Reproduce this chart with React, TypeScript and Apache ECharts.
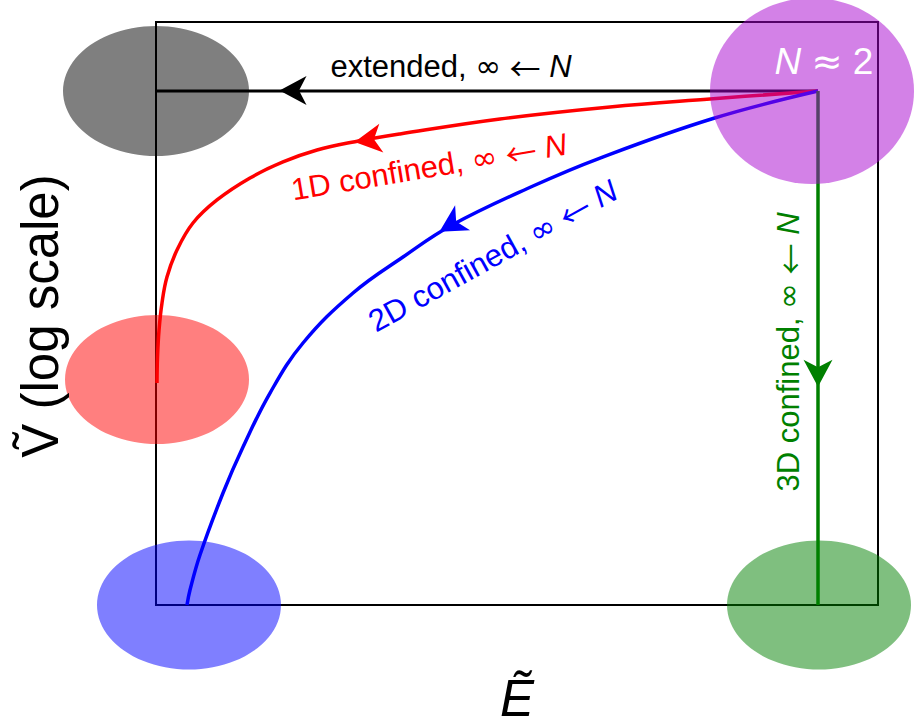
import React, { useEffect, useRef } from "react";
import * as echarts from "echarts";

// Normalised coordinates inside the box: E from 0 (left) to 1 (right), V from 0 (bottom) to 1 (top)
const regionNames = ["extended", "N ≈ 2", "1D confined", "2D confined", "3D confined"];
const regionE = [0, 0.9086, 0.0014, 0.0457, 0.9183];
const regionV = [0.8816, 0.8816, 0.3868, 0, 0];

const extendedE = [0.9169, 0];
const extendedV = [0.8816, 0.8816];

const confined3E = [0.9169, 0.9169];
const confined3V = [0.8816, 0];

const confined1E = [0.9169, 0.7673, 0.6288, 0.4765, 0.338, 0.2756, 0.223, 0.1759, 0.1302, 0.0845, 0.0512, 0.0291, 0.0152, 0.0083, 0.0042, 0.0021, 0.0014];
const confined1V = [0.8816, 0.8679, 0.8542, 0.8336, 0.8079, 0.7947, 0.7804, 0.7599, 0.7324, 0.6947, 0.6552, 0.6089, 0.5626, 0.518, 0.4717, 0.4254, 0.3808];

const confined2E = [0.9169, 0.7715, 0.615, 0.5222, 0.41, 0.3421, 0.2729, 0.2036, 0.1579, 0.1205, 0.0928, 0.0609, 0.0471, 0.0429];
const confined2V = [0.8816, 0.8345, 0.7667, 0.7187, 0.6518, 0.5969, 0.5352, 0.4494, 0.3636, 0.271, 0.1921, 0.0858, 0.0257, 0];

const arrowE = [0.1898, 0.2936, 0.4086, 0.9169];
const arrowV = [0.8825, 0.7976, 0.6523, 0.3974];
const arrowAngle = [90, 98, 121, 180];

const FONT = "'Liberation Sans', Arial, Helvetica, sans-serif";
const MATH = "'DejaVu Sans', sans-serif";
const ARROWFONT = "'Noto Sans CJK SC', 'DejaVu Sans', sans-serif";

const ellipseStyle = [
  { size: [186, 130], color: "rgba(0,0,0,0.5)" },
  { size: [204, 186], color: "rgba(168,4,208,0.5)" },
  { size: [184, 129], color: "rgba(255,0,0,0.5)" },
  { size: [184, 129], color: "rgba(0,0,255,0.5)" },
  { size: [184, 129], color: "rgba(0,128,0,0.5)" },
];
const arrowColors = ["#000000", "#ff0000", "#0000ff", "#008000"];

const pts = (xs: number[], ys: number[]) => xs.map((x, i) => [x, ys[i]]);

const ARROW = "path://M0,27 L14.5,0 L29,27 L14.5,19.5 Z";

function label(text: string, x: number, y: number, color: string, size: number, rotDeg: number, italic = false) {
  return {
    type: "text",
    x,
    y,
    rotation: (rotDeg * Math.PI) / 180,
    z: 100,
    style: {
      text,
      fill: color,
      fontSize: size,
      fontFamily: FONT,
      fontStyle: italic ? "italic" : "normal",
      align: "center",
      verticalAlign: "middle",
      textAlign: "center",
      textVerticalAlign: "middle",
      rich: {
        i: { fontStyle: "italic", fill: color, fontSize: size, fontFamily: FONT },
        m: { fill: color, fontSize: size, fontFamily: MATH, fontWeight: "normal" },
        a: { fill: color, fontSize: size, fontFamily: ARROWFONT, fontWeight: "normal" },
      },
    },
  };
}

export default function App() {
  const ref = useRef<HTMLDivElement>(null);
  useEffect(() => {
    if (!ref.current) return;
    const chart = echarts.init(ref.current, undefined, { renderer: "svg" });
    const hiddenAxis = {
      type: "value",
      min: 0,
      max: 1,
      axisLine: { show: false },
      axisTick: { show: false },
      axisLabel: { show: false },
      splitLine: { show: false },
    };
    chart.setOption({
      animation: false,
      backgroundColor: "#ffffff",
      grid: {
        left: 156,
        top: 22,
        width: 722,
        height: 583,
        show: true,
        borderColor: "#000",
        borderWidth: 2,
        backgroundColor: "transparent",
        containLabel: false,
        outerBoundsMode: "none",
      },
      xAxis: { ...hiddenAxis },
      yAxis: { ...hiddenAxis },
      series: [
        { type: "line", name: "extended", data: pts(extendedE, extendedV), symbol: "none", clip: false, z: 2, lineStyle: { color: "#000", width: 3 } },
        { type: "line", name: "1D confined", data: pts(confined1E, confined1V), smooth: 0.4, symbol: "none", clip: false, z: 2, lineStyle: { color: "#ff0000", width: 3.5 } },
        { type: "line", name: "2D confined", data: pts(confined2E, confined2V), smooth: 0.4, symbol: "none", clip: false, z: 2, lineStyle: { color: "#0000ff", width: 3.5 } },
        { type: "line", name: "3D confined", data: pts(confined3E, confined3V), symbol: "none", clip: false, z: 2, lineStyle: { color: "#008000", width: 3.5 } },
        {
          type: "scatter",
          name: "arrows",
          clip: false,
          z: 3,
          data: arrowE.map((e, i) => ({
            value: [e, arrowV[i]],
            symbol: ARROW,
            symbolSize: [29, 27],
            symbolRotate: arrowAngle[i],
            itemStyle: { color: arrowColors[i], opacity: 1 },
          })),
        },
        {
          type: "scatter",
          name: "regions",
          clip: false,
          z: 4,
          data: regionE.map((e, i) => ({
            name: regionNames[i],
            value: [e, regionV[i]],
            symbol: "circle",
            symbolSize: ellipseStyle[i].size,
            itemStyle: { color: ellipseStyle[i].color, opacity: 1 },
          })),
        },
      ],
      graphic: [
        label("extended, {m|∞} {a|←} {i|N}", 451, 66, "#000000", 31, 0),
        label("{i|N} {m|≈} 2", 824, 61, "#ffffff", 37, 0),
        label("1D confined, {m|∞} {a|←} {i|N}", 429, 167, "#ff0000", 31, 9.5),
        label("2D confined, {m|∞} {a|←} {i|N}", 493, 256, "#0000ff", 31, 29),
        label("3D confined, {m|∞} {a|←} {i|N}", 788, 352, "#008000", 31, 90),
        label("V\u0303 (log scale)", 40, 316, "#000000", 51, 90),
        label("E\u0303", 517, 698, "#000000", 51, 0, true),
      ],
    });
    return () => chart.dispose();
  }, []);
  return <div ref={ref} style={{ position: "fixed", left: 0, top: 0, width: 920, height: 728 }} />;
}
